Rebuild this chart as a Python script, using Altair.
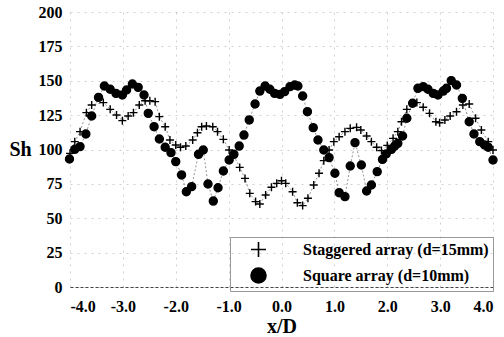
import altair as alt
import pandas as pd

S1 = "Staggered array (d=15mm)"
S2 = "Square array (d=10mm)"

stag_x = [-4.00, -3.91, -3.81, -3.69, -3.59, -3.37, -3.24, -3.12, -3.01, -2.90, -2.80, -2.69,
          -2.58, -2.49, -2.39, -2.31, -2.20, -2.11, -2.00, -1.91, -1.81, -1.68, -1.59, -1.51,
          -1.42, -1.30, -1.21, -1.10, -0.99, -0.91, -0.79, -0.69, -0.60, -0.49, -0.41, -0.30,
          -0.19, -0.09, 0.00, 0.08, 0.21, 0.30, 0.40, 0.50, 0.61, 0.71, 0.80, 0.90, 0.99,
          1.09, 1.20, 1.30, 1.42, 1.50, 1.61, 1.70, 1.80, 1.89, 2.00, 2.11, 2.20, 2.27, 2.37,
          2.48, 2.56, 2.68, 2.80, 2.92, 2.99, 3.09, 3.19, 3.31, 3.43, 3.55, 3.67, 3.78, 3.91, 4.00]
stag_y = [97.2, 105.7, 113.0, 126.8, 132.4, 134.1, 129.2, 125.1, 121.0, 124.4, 126.8, 132.4,
          135.5, 135.5, 134.8, 123.9, 116.6, 106.9, 103.3, 101.6, 102.5, 106.9, 112.2, 116.6,
          117.1, 116.6, 113.0, 107.4, 99.6, 96.0, 87.0, 79.0, 68.1, 62.1, 60.4, 66.9,
          72.5, 75.4, 77.3, 75.4, 69.3, 61.3, 59.2, 64.5, 74.2, 82.7, 91.9, 99.6, 105.7,
          109.3, 113.0, 115.4, 116.1, 114.2, 109.8, 105.7, 101.6, 99.2, 103.0, 108.1, 113.0, 120.2, 129.2,
          133.6, 134.1, 130.7, 126.3, 120.2, 119.5, 121.5, 124.4, 127.5, 132.4, 133.1, 122.7, 114.2, 105.7, 99.6]

sq_x = [-4.01, -3.91, -3.81, -3.70, -3.59, -3.46, -3.35, -3.24, -3.13, -3.01, -2.93, -2.82,
        -2.71, -2.60, -2.52, -2.41, -2.31, -2.20, -2.09, -2.00, -1.89, -1.80, -1.70, -1.57,
        -1.48, -1.39, -1.29, -1.20, -1.10, -0.99, -0.90, -0.80, -0.71, -0.61, -0.50, -0.41,
        -0.31, -0.22, -0.13, -0.03, 0.06, 0.16, 0.25, 0.31, 0.40, 0.49, 0.60, 0.69, 0.80,
        0.90, 1.01, 1.09, 1.20, 1.30, 1.39, 1.51, 1.61, 1.70, 1.81, 1.91, 1.98, 2.08, 2.14,
        2.20, 2.29, 2.37, 2.48, 2.58, 2.68, 2.77, 2.87, 2.96, 3.06, 3.12, 3.21, 3.31, 3.42,
        3.55, 3.64, 3.75, 3.84, 3.91, 4.00]
sq_y = [93.1, 100.1, 102.1, 111.3, 124.4, 137.9, 146.2, 143.8, 140.8, 139.6, 143.3, 147.6,
        145.2, 139.6, 126.3, 116.6, 107.6, 101.6, 97.7, 91.2, 81.5, 69.3, 73.0, 96.5,
        99.6, 74.9, 62.5, 72.2, 84.4, 92.4, 96.5, 102.5, 110.5, 121.5, 133.1, 142.5,
        146.2, 143.8, 140.8, 140.1, 142.1, 145.7, 146.9, 146.2, 138.9, 127.5, 115.9, 106.9, 99.6,
        94.1, 82.7, 68.6, 65.7, 88.0, 105.0, 88.7, 69.8, 74.2, 83.9, 92.8, 96.7, 100.1, 102.5,
        104.5, 109.8, 122.7, 133.6, 144.5, 145.7, 143.8, 140.8, 139.6, 142.5, 144.5, 150.1, 146.9, 137.2,
        120.2, 111.3, 105.7, 103.3, 101.6, 92.4]

x_ticks = [-4, -3, -2, -1, 0, 1, 2, 3, 4]
y_ticks = [0, 25, 50, 75, 100, 125, 150, 175, 200]

df = pd.concat([
    pd.DataFrame({"x": stag_x, "y": stag_y, "series": S1, "i": list(range(len(stag_x)))}),
    pd.DataFrame({"x": sq_x, "y": sq_y, "series": S2, "i": list(range(len(sq_x)))}),
], ignore_index=True)

FONT = "'Liberation Serif', 'DejaVu Serif', serif"
PLUS = "M-1,0L1,0M0,-1L0,1"

xenc = alt.X("x:Q", scale=alt.Scale(domain=[-4, 4], nice=False, zero=False),
             axis=alt.Axis(values=x_ticks, title="x/D",
                           labelExpr="(datum.value < 0 ? '-' : '') + format(abs(datum.value), '.1f')",
                           labelFont=FONT, labelFontSize=16, labelFontWeight="bold", labelColor="black",
                           titleFont=FONT, titleFontWeight="bold", titleColor="black",
                           labelPadding=11, titlePadding=2, titleFontSize=20,
                           domain=True, domainColor="#444", domainDash=[3, 2], domainWidth=1))
yenc = alt.Y("y:Q", scale=alt.Scale(domain=[0, 200], nice=False),
             axis=alt.Axis(values=y_ticks, title="Sh", titleAngle=0, titleX=-50, titleY=137,
                           titleAlign="center", titleBaseline="middle", titleFontSize=20,
                           labelFont=FONT, labelFontSize=16, labelFontWeight="bold", labelColor="black",
                           titleFont=FONT, titleFontWeight="bold", titleColor="black",
                           labelPadding=8, domain=False))

leg = alt.Legend(orient="none", legendX=160, legendY=225, title=None,
                 symbolSize=225, symbolStrokeWidth=1.6, labelFont=FONT, labelFontSize=16,
                 labelFontWeight="bold", labelColor="black", rowPadding=3, padding=4,
                 symbolOffset=16, labelOffset=36, strokeColor="#999", labelLimit=400)

lines = alt.Chart(df).mark_line(color="#777", strokeWidth=0.8, strokeDash=[2, 2]).encode(
    x=xenc, y=yenc, detail="series:N", order="i:Q")

pts = alt.Chart(df).mark_point(filled=True, opacity=1, strokeWidth=1.4, size=64).encode(
    x=xenc, y=yenc,
    shape=alt.Shape("series:N", scale=alt.Scale(domain=[S1, S2], range=[PLUS, "circle"]), legend=leg),
    fill=alt.Fill("series:N", scale=alt.Scale(domain=[S1, S2], range=["transparent", "black"]), legend=leg),
    stroke=alt.Stroke("series:N", scale=alt.Scale(domain=[S1, S2], range=["black", "black"]), legend=leg),
)

chart = (lines + pts).properties(
    width=423, height=275,
    autosize=alt.AutoSizeParams(type="none"),
    padding={"left": 70, "top": 12, "right": 11, "bottom": 50},
).configure_view(stroke=None).configure_axis(
    ticks=False, grid=True, gridColor="#c4c4c4", gridDash=[2, 5], gridWidth=0.8,
)

chart.save("out.html", embed_options={"renderer": "svg", "actions": False})
